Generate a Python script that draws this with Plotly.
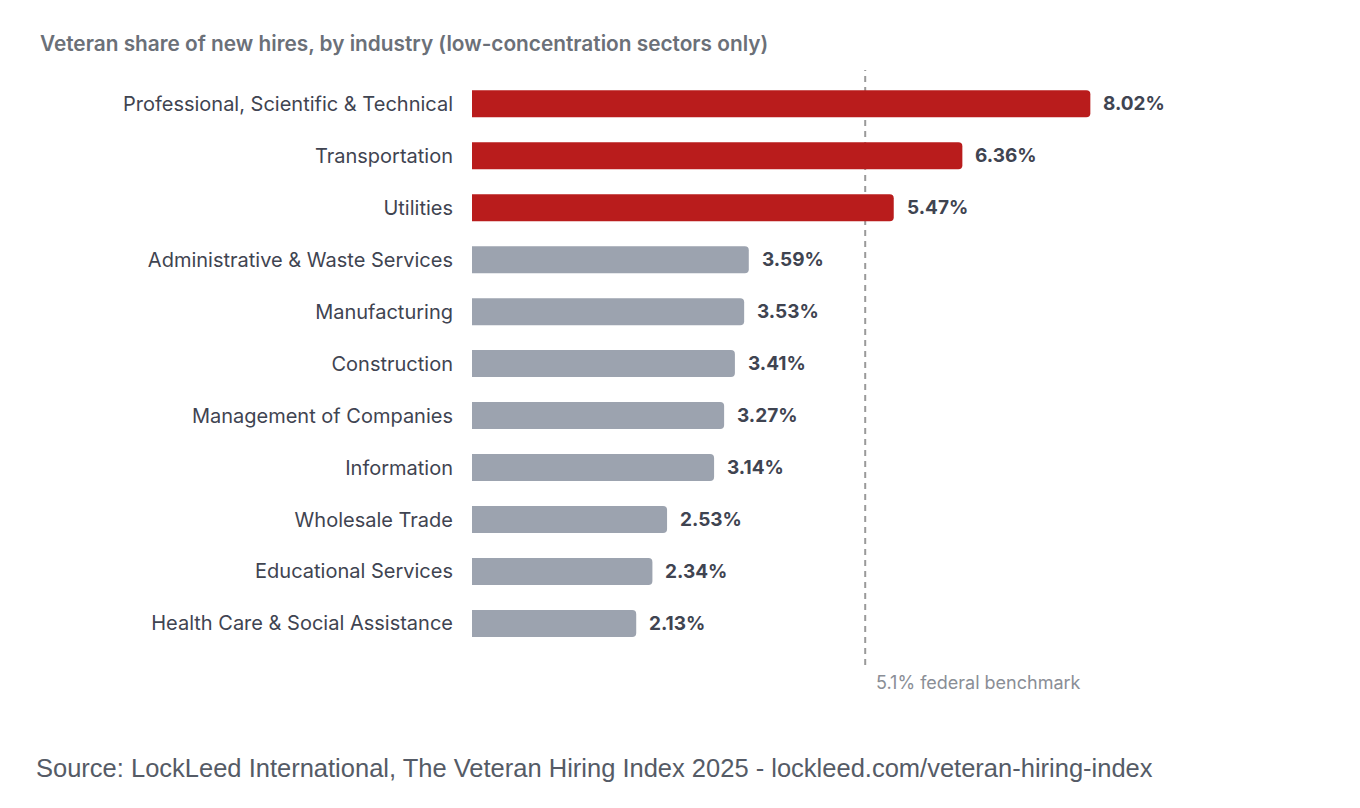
import plotly.graph_objects as go

industries = [
    "Professional, Scientific & Technical",
    "Transportation",
    "Utilities",
    "Administrative & Waste Services",
    "Manufacturing",
    "Construction",
    "Management of Companies",
    "Information",
    "Wholesale Trade",
    "Educational Services",
    "Health Care & Social Assistance",
]
veteran_share = [8.02, 6.36, 5.47, 3.59, 3.53, 3.41, 3.27, 3.14, 2.53, 2.34, 2.13]
benchmark = 5.1

RED = "#b91c1c"
GRAY = "#9ca3af"
FONT = "Inter"

bar_colors = [RED if v > benchmark else GRAY for v in veteran_share]

# page has an 8px body margin, so pixel targets are shifted by that
OFF = 8
plot_top = 70 - OFF
plot_h = 595.4
margin_l = 472 - OFF
plot_w = 770.6


def px_x(p):
    return (p - OFF - margin_l) / plot_w


def px_y(p):
    return 1 - (p - OFF - plot_top) / plot_h


fig = go.Figure()

fig.add_trace(go.Bar(
    x=veteran_share,
    y=industries,
    orientation="h",
    width=0.52,
    marker=dict(color=bar_colors, cornerradius=4, line=dict(width=0)),
    hoverinfo="skip",
))

# value labels just right of each bar
for name, v in zip(industries, veteran_share):
    fig.add_annotation(
        x=v, y=name, xref="x", yref="y",
        text=f"<b>{v:.2f}%</b>",
        showarrow=False, xanchor="left", yanchor="middle",
        xshift=11,
        font=dict(family=FONT, size=19, color="#3f4451"),
    )

# dashed benchmark line, drawn below the bars
fig.add_shape(
    type="line", xref="x", yref="paper",
    x0=benchmark, x1=benchmark, y0=0, y1=1,
    line=dict(color="#9a9a9a", width=2, dash="6px,5px"),
    layer="below",
)
fig.add_annotation(
    x=benchmark, y=0, xref="x", yref="paper",
    text=f"{benchmark}% federal benchmark",
    showarrow=False, xanchor="left", yanchor="top",
    xshift=9, yshift=-5,
    font=dict(family=FONT, size=18, color="#8a8e96"),
)

fig.add_annotation(
    x=px_x(38), y=px_y(43), xref="paper", yref="paper",
    text="Veteran share of new hires, by industry (low-concentration sectors only)",
    showarrow=False, xanchor="left", yanchor="middle",
    font=dict(family=FONT, size=20.8, color="#6b7078", weight=600),
)

fig.add_annotation(
    x=px_x(34), y=px_y(768), xref="paper", yref="paper",
    text="Source: LockLeed International, The Veteran Hiring Index 2025 - lockleed.com/veteran-hiring-index",
    showarrow=False, xanchor="left", yanchor="middle",
    font=dict(family="Liberation Sans, Arial", size=25.5, color="#555b66"),
)

fig.update_layout(
    width=1360,
    height=808,
    margin=dict(l=margin_l, r=1360 - margin_l - plot_w, t=plot_top, b=808 - plot_top - plot_h, pad=0),
    paper_bgcolor="white",
    plot_bgcolor="white",
    showlegend=False,
    font=dict(family=FONT),
)
fig.update_xaxes(range=[0, 10], visible=False, fixedrange=True)
fig.update_yaxes(
    range=[10.8, -0.65],
    showgrid=False, zeroline=False, showline=False,
    ticks="", ticklabelstandoff=18,
    tickfont=dict(family=FONT, size=20, color="#3f4451"),
    fixedrange=True,
)

fig.write_html("out.html")
